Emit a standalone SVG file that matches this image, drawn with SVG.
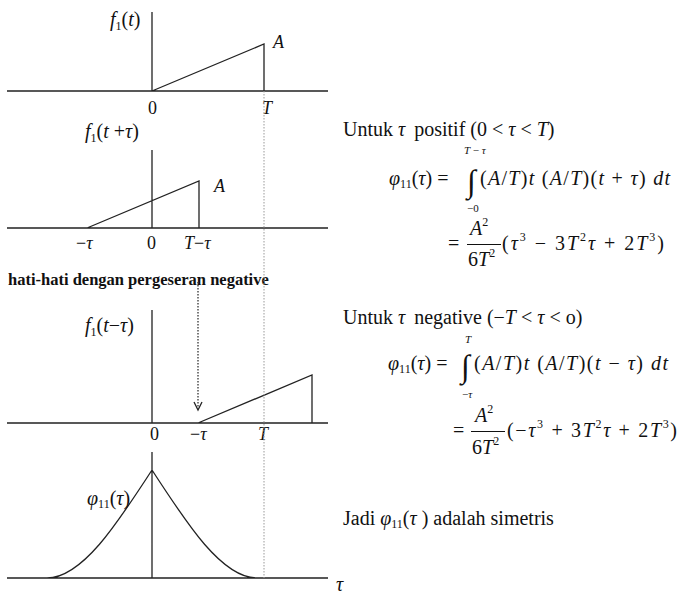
<svg xmlns="http://www.w3.org/2000/svg" width="680" height="594" viewBox="0 0 680 594">
<style>
  .ln{stroke:#222;stroke-width:1.3;fill:none}
  .t{font-family:"Liberation Serif","Times New Roman",serif;fill:#111;font-size:20px}
  .lb{font-family:"Liberation Serif","Times New Roman",serif;fill:#111;font-size:18px}
  .i{font-style:italic}
  .sub{font-size:12px}
  .lim{font-family:"Liberation Serif","Times New Roman",serif;fill:#111;font-size:11px;font-style:italic}
  .int{font-family:"Liberation Serif","Times New Roman",serif;fill:#111;font-size:32px}
  .note{font-family:"Liberation Serif","Times New Roman",serif;fill:#111;font-size:16.5px;font-weight:bold}
  .guide{stroke:#999;stroke-width:1;stroke-dasharray:1.5 1.5;fill:none}
  .arr{stroke:#333;stroke-width:1.3;stroke-dasharray:1.5 1.5;fill:none}
</style>
<rect width="680" height="594" fill="#fff"/>

<g id="plot1">
  <path class="ln" d="M7 91H328M152 12V91M152 91L264 44V91"/>
  <text class="t" x="110" y="26"><tspan class="i">f</tspan><tspan class="sub" dy="4">1</tspan><tspan dy="-4">(</tspan><tspan class="i">t</tspan>)</text>
  <text class="lb i" x="273" y="48">A</text>
  <text class="lb" x="148" y="114">0</text>
  <text class="lb i" x="262" y="114">T</text>
</g>

<g id="plot2">
  <path class="ln" d="M7 228H328M152 150V228M87 228L199 181V228"/>
  <text class="t" x="85" y="138"><tspan class="i">f</tspan><tspan class="sub" dy="4">1</tspan><tspan dy="-4">(</tspan><tspan class="i">t</tspan> +<tspan class="i">τ</tspan>)</text>
  <text class="lb i" x="214" y="192">A</text>
  <text class="lb" x="76" y="249">−<tspan class="i">τ</tspan></text>
  <text class="lb" x="147" y="249">0</text>
  <text class="lb" x="184" y="249"><tspan class="i">T</tspan>−<tspan class="i">τ</tspan></text>
</g>

<text id="note" class="note" x="8" y="285">hati-hati dengan pergeseran negative</text>

<g id="plot3">
  <path class="ln" d="M7 423H328M152 310V423M198 423L312 375V423"/>
  <text class="t" x="85" y="332"><tspan class="i">f</tspan><tspan class="sub" dy="4">1</tspan><tspan dy="-4">(</tspan><tspan class="i">t</tspan>−<tspan class="i">τ</tspan>)</text>
  <text class="lb" x="150" y="440">0</text>
  <text class="lb" x="190" y="440">−<tspan class="i">τ</tspan></text>
  <text class="lb i" x="258" y="440">T</text>
</g>

<g id="plot4">
  <path class="ln" d="M7 578H328M152 452V578M152 470C187 524 222 578 257 578M152 470C117 524 82 578 47 578"/>
  <text class="t" x="87" y="505"><tspan class="i">φ</tspan><tspan class="sub" dy="3">11</tspan><tspan dy="-3">(</tspan><tspan class="i">τ</tspan>)</text>
  <text class="t i" x="336" y="591">τ</text>
</g>

<g id="connectors">
  <path class="guide" d="M264 91V578"/>
  <path class="arr" d="M198 282V408"/>
  <path class="ln" d="M194 402L198 410L202 402"/>
</g>

<g id="positive">
  <text class="t" x="343" y="136">Untuk <tspan class="i">τ</tspan><tspan dx="9">positif (0 &lt; </tspan><tspan class="i">τ</tspan><tspan dx="5">&lt; </tspan><tspan class="i">T</tspan>)</text>
  <text class="t" x="389" y="185"><tspan class="i">φ</tspan><tspan class="sub" dy="3">11</tspan><tspan dy="-3">(</tspan><tspan class="i">τ</tspan>) =</text>
  <text class="lim" x="464" y="154">T <tspan font-style="normal">−</tspan> τ</text>
  <text class="int" x="467" y="192">∫</text>
  <text class="lim" x="467" y="212"><tspan font-style="normal">−0</tspan></text>
  <text class="t" x="480" y="185" textLength="190" lengthAdjust="spacing">(<tspan class="i">A</tspan>/<tspan class="i">T</tspan>)<tspan class="i">t</tspan> (<tspan class="i">A</tspan>/<tspan class="i">T</tspan>)(<tspan class="i">t</tspan> + <tspan class="i">τ</tspan>) <tspan class="i">dt</tspan></text>
  <text class="t" x="448" y="250">=</text>
  <text class="t" x="470" y="235"><tspan class="i">A</tspan><tspan class="sub" dy="-9">2</tspan></text>
  <path d="M467 244.5H501" stroke="#111" stroke-width="1"/>
  <text class="t" x="468" y="266">6<tspan class="i">T</tspan><tspan class="sub" dy="-9">2</tspan></text>
  <text class="t" x="502" y="250" textLength="162" lengthAdjust="spacing">(<tspan class="i">τ</tspan><tspan class="sub" dy="-9">3</tspan><tspan dy="9"> − 3</tspan><tspan class="i">T</tspan><tspan class="sub" dy="-9">2</tspan><tspan class="i" dy="9">τ</tspan> + 2<tspan class="i">T</tspan><tspan class="sub" dy="-9">3</tspan><tspan dy="9">)</tspan></text>
</g>

<g id="negative">
  <text class="t" x="343" y="324">Untuk <tspan class="i">τ</tspan><tspan dx="9">negative (−</tspan><tspan class="i">T</tspan> &lt; <tspan class="i">τ</tspan> &lt; o)</text>
  <text class="t" x="388" y="370"><tspan class="i">φ</tspan><tspan class="sub" dy="3">11</tspan><tspan dy="-3">(</tspan><tspan class="i">τ</tspan>) =</text>
  <text class="lim" x="465" y="343">T</text>
  <text class="int" x="461" y="377">∫</text>
  <text class="lim" x="462" y="398"><tspan font-style="normal">−</tspan>τ</text>
  <text class="t" x="474" y="370" textLength="194" lengthAdjust="spacing">(<tspan class="i">A</tspan>/<tspan class="i">T</tspan>)<tspan class="i">t</tspan> (<tspan class="i">A</tspan>/<tspan class="i">T</tspan>)(<tspan class="i">t</tspan> − <tspan class="i">τ</tspan>) <tspan class="i">dt</tspan></text>
  <text class="t" x="453" y="437">=</text>
  <text class="t" x="475" y="422"><tspan class="i">A</tspan><tspan class="sub" dy="-9">2</tspan></text>
  <path d="M471 431.5H505" stroke="#111" stroke-width="1"/>
  <text class="t" x="472" y="454">6<tspan class="i">T</tspan><tspan class="sub" dy="-9">2</tspan></text>
  <text class="t" x="507" y="437" textLength="170" lengthAdjust="spacing">(−<tspan class="i">τ</tspan><tspan class="sub" dy="-9">3</tspan><tspan dy="9"> + 3</tspan><tspan class="i">T</tspan><tspan class="sub" dy="-9">2</tspan><tspan class="i" dy="9">τ</tspan> + 2<tspan class="i">T</tspan><tspan class="sub" dy="-9">3</tspan><tspan dy="9">)</tspan></text>
</g>

<text id="conclusion" class="t" x="343" y="525">Jadi <tspan class="i">φ</tspan><tspan class="sub" dy="3">11</tspan><tspan dy="-3">(</tspan><tspan class="i">τ</tspan> ) adalah simetris</text>
</svg>
